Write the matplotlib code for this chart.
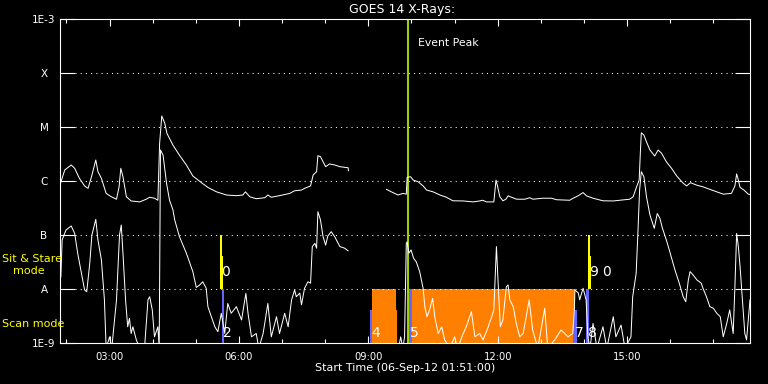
import matplotlib
matplotlib.use('Agg')
import matplotlib.pyplot as plt
from matplotlib.ticker import MultipleLocator, FuncFormatter, NullLocator

# ---------------- data (time in decimal hours UT on 06-Sep-2012, flux in W/m^2) ----------------
# GOES 14 long channel (1-8 A), two segments separated by a data gap
long_t1 = [1.85, 1.96, 2.11, 2.19, 2.30, 2.42, 2.50, 2.58, 2.68, 2.73, 2.81, 2.92, 3.04, 3.16, 3.22, 3.26,
           3.31, 3.39, 3.50, 3.70, 3.85, 3.93, 4.04, 4.12, 4.16, 4.21, 4.28, 4.33, 4.47, 4.62, 4.78, 4.93,
           5.13, 5.28, 5.48, 5.71, 5.94, 6.09, 6.15, 6.25, 6.40, 6.60, 6.67, 6.75, 6.94, 7.18, 7.29, 7.45,
           7.52, 7.66, 7.72, 7.80, 7.83, 7.89, 7.95, 8.01, 8.10, 8.22, 8.34, 8.53, 8.54]
long_f1 = [8.5e-7, 1.6e-6, 1.98e-6, 1.72e-6, 1.12e-6, 8.1e-7, 7.3e-7, 1.2e-6, 2.45e-6, 1.49e-6, 1.12e-6,
           5.9e-7, 5.1e-7, 4.6e-7, 7.8e-7, 1.72e-6, 1.2e-6, 5.1e-7, 4.27e-7, 4.1e-7, 4.6e-7, 5.0e-7, 4.8e-7,
           4.4e-7, 5.0e-6, 1.6e-5, 1.17e-5, 7.6e-6, 4.6e-6, 3.0e-6, 1.98e-6, 1.24e-6, 9.3e-7, 7.6e-7, 6.3e-7,
           5.5e-7, 5.35e-7, 5.5e-7, 6.3e-7, 5.1e-7, 4.7e-7, 4.9e-7, 5.5e-7, 5.0e-7, 5.35e-7, 5.9e-7, 6.6e-7,
           6.8e-7, 7.3e-7, 8.1e-7, 1.29e-6, 1.49e-6, 2.94e-6, 2.82e-6, 2.27e-6, 1.84e-6, 2.07e-6, 1.98e-6,
           1.84e-6, 1.76e-6, 1.55e-6]
long_t2 = [9.42, 9.57, 9.69, 9.80, 9.88, 9.90, 9.98, 10.04, 10.15, 10.27, 10.35, 10.50, 10.66, 10.81, 10.96,
           11.20, 11.43, 11.58, 11.65, 11.74, 11.91, 11.96, 11.99, 12.05, 12.12, 12.19, 12.24, 12.32, 12.44,
           12.63, 12.74, 12.82, 13.05, 13.25, 13.36, 13.67, 13.75, 13.86, 13.98, 14.06, 14.21, 14.44, 14.68,
           14.83, 15.06, 15.14, 15.22, 15.28, 15.31, 15.33, 15.39, 15.45, 15.53, 15.64, 15.72, 15.80, 15.91,
           16.03, 16.15, 16.30, 16.38, 16.47, 16.61, 16.76, 16.92, 17.08, 17.23, 17.42, 17.50, 17.54, 17.58,
           17.62, 17.71, 17.81, 17.85]
long_f2 = [7.0e-7, 6.1e-7, 5.5e-7, 5.9e-7, 5.7e-7, 1.17e-6, 1.2e-6, 1.04e-6, 9.7e-7, 8.1e-7, 6.8e-7, 6.3e-7,
           5.5e-7, 5.0e-7, 4.3e-7, 4.27e-7, 4.1e-7, 4.27e-7, 4.4e-7, 4.1e-7, 4.1e-7, 1.04e-6, 8.4e-7, 5.1e-7,
           4.3e-7, 4.6e-7, 5.3e-7, 5.0e-7, 4.6e-7, 4.6e-7, 4.9e-7, 4.6e-7, 4.8e-7, 4.8e-7, 4.5e-7, 4.4e-7,
           4.8e-7, 5.3e-7, 6.1e-7, 5.3e-7, 4.8e-7, 4.3e-7, 4.27e-7, 4.4e-7, 4.6e-7, 5.1e-7, 7.8e-7, 1.04e-6,
           3.75e-6, 7.8e-6, 7.1e-6, 5.3e-6, 3.75e-6, 2.9e-6, 3.75e-6, 3.26e-6, 2.27e-6, 1.72e-6, 1.24e-6,
           9.1e-7, 8.1e-7, 9.3e-7, 8.4e-7, 7.8e-7, 7.0e-7, 6.3e-7, 5.7e-7, 5.9e-7, 8.1e-7, 1.35e-6, 1.04e-6,
           7.6e-7, 6.8e-7, 5.7e-7, 5.6e-7]

# GOES 14 short channel (0.5-4 A)
short_t1 = [1.87, 1.90, 1.99, 2.11, 2.19, 2.26, 2.34, 2.42, 2.47, 2.54, 2.59, 2.68, 2.73, 2.81, 2.88, 2.92,
            3.00, 3.05, 3.16, 3.23, 3.27, 3.31, 3.37, 3.42, 3.46, 3.50, 3.54, 3.62, 3.70, 3.81, 3.89, 3.93,
            3.99, 4.04, 4.12, 4.15, 4.18, 4.24, 4.32, 4.39, 4.47, 4.51, 4.62, 4.78, 4.93, 5.01, 5.09, 5.16,
            5.24, 5.28, 5.36, 5.44, 5.51, 5.59, 5.67, 5.74, 5.82, 5.94, 6.06, 6.16, 6.21, 6.29, 6.40, 6.46,
            6.56, 6.67, 6.75, 6.87, 6.94, 7.06, 7.14, 7.22, 7.29, 7.33, 7.41, 7.45, 7.52, 7.60, 7.66, 7.70,
            7.76, 7.80, 7.83, 7.89, 7.95, 8.01, 8.06, 8.14, 8.22, 8.34, 8.45, 8.53]
short_f1 = [1.69e-8, 8.1e-8, 1.24e-7, 1.47e-7, 1.07e-7, 4.6e-8, 2.1e-8, 9.6e-9, 8.9e-9, 3.0e-8, 1.0e-7,
            1.95e-7, 8.1e-8, 3.44e-8, 6.3e-9, 8e-10, 1.3e-9, 8e-10, 6.3e-9, 1.0e-7, 1.53e-7, 4.6e-8, 6.3e-9,
            2.0e-9, 2.87e-9, 1.5e-9, 2.0e-9, 1.14e-9, 8e-10, 8e-10, 6.3e-9, 7.2e-9, 4.1e-9, 1.3e-9, 2.0e-9,
            8e-10, 3.75e-6, 3.0e-6, 9.1e-7, 4.4e-7, 2.9e-7, 1.9e-7, 9.3e-8, 4.6e-8, 2.1e-8, 1.07e-8, 1.19e-8,
            1.36e-8, 1.03e-8, 4.7e-9, 3.07e-9, 2.0e-9, 1.62e-9, 3.55e-9, 1.5e-9, 5.4e-9, 3.55e-9, 4.7e-9,
            2.67e-9, 8.3e-9, 3.55e-9, 1.3e-9, 1.5e-9, 8e-10, 1.5e-9, 5.4e-9, 1.3e-9, 3.07e-9, 1.5e-9, 3.55e-9,
            2.0e-9, 6.3e-9, 9.6e-9, 7.2e-9, 8.4e-9, 5.1e-9, 1.03e-8, 1.36e-8, 1.28e-8, 6.1e-8, 7.0e-8, 5.7e-8,
            2.7e-7, 1.9e-7, 9.3e-8, 6.5e-8, 9.6e-8, 1.15e-7, 9.3e-8, 6.1e-8, 5.7e-8, 5.1e-8]
short_t2 = [9.70, 9.75, 9.80, 9.84, 9.88, 9.90, 9.94, 9.99, 10.05, 10.11, 10.19, 10.27, 10.31, 10.36, 10.42,
            10.49, 10.54, 10.62, 10.70, 10.77, 10.89, 11.00, 11.07, 11.20, 11.27, 11.39, 11.47, 11.58, 11.66,
            11.78, 11.86, 11.91, 11.97, 12.01, 12.06, 12.12, 12.20, 12.24, 12.28, 12.36, 12.43, 12.51, 12.59,
            12.73, 12.81, 12.93, 13.09, 13.16, 13.32, 13.47, 13.63, 13.74, 13.78, 13.79, 13.87, 13.90, 13.98,
            14.05, 14.09, 14.14, 14.21, 14.30, 14.44, 14.53, 14.68, 14.74, 14.86, 14.95, 15.09, 15.13, 15.21,
            15.25, 15.29, 15.33, 15.39, 15.45, 15.53, 15.63, 15.70, 15.76, 15.82, 15.91, 15.99, 16.11, 16.21,
            16.30, 16.36, 16.42, 16.46, 16.53, 16.62, 16.72, 16.76, 16.84, 16.92, 17.00, 17.08, 17.16, 17.23,
            17.31, 17.38, 17.46, 17.50, 17.54, 17.58, 17.62, 17.68, 17.73, 17.77, 17.85]
short_f2 = [8e-10, 1.3e-9, 8e-10, 1.3e-9, 7.0e-8, 7.5e-8, 4.6e-8, 5.3e-8, 3.7e-8, 3.2e-8, 2.1e-8, 1.03e-8,
            4.7e-9, 3.07e-9, 4.1e-9, 6.7e-9, 3.07e-9, 1.5e-9, 2.0e-9, 1.14e-9, 8e-10, 1.3e-9, 8e-10, 1.5e-9,
            2.0e-9, 3.8e-9, 1.3e-9, 1.5e-9, 1.14e-9, 2.0e-9, 3.07e-9, 4.1e-9, 6.1e-8, 1.28e-8, 2.0e-9, 2.67e-9,
            1.1e-8, 1.19e-8, 6.3e-9, 4.7e-9, 2.3e-9, 1.3e-9, 1.5e-9, 6.3e-9, 1.74e-9, 8e-10, 4.4e-9, 8e-10,
            1.14e-9, 1.74e-9, 1.3e-9, 1.5e-9, 4.7e-9, 9.6e-9, 8.4e-9, 6.3e-9, 1.03e-8, 6.3e-9, 1.3e-9, 8e-10,
            2.3e-9, 8e-10, 2.0e-9, 8e-10, 3.07e-9, 1.3e-9, 2.15e-9, 8e-10, 1.3e-9, 7.2e-9, 1.95e-8, 1.07e-7,
            6.8e-7, 1.49e-6, 1.2e-6, 5.1e-7, 2.35e-7, 1.33e-7, 2.5e-7, 2.04e-7, 1.33e-7, 8.1e-8, 4.9e-8,
            2.25e-8, 1.28e-8, 7.2e-9, 5.8e-9, 1.47e-8, 2.1e-8, 1.82e-8, 1.47e-8, 1.28e-8, 1.03e-8, 7.2e-9,
            4.7e-9, 4.4e-9, 3.55e-9, 3.07e-9, 1.3e-9, 2.3e-9, 4.1e-9, 1.5e-9, 1.1e-8, 1.07e-7, 6.1e-8, 2.6e-8,
            5.4e-9, 1.5e-9, 1.14e-9, 6.3e-9]

# observing-mode blocks
orange_start = [9.08, 9.65, 10.01]
orange_end = [9.65, 9.67, 13.79]
orange_top = [1e-8, 4.1e-9, 1e-8]
blue_start = [5.60, 9.03, 9.95, 13.75, 14.04]
blue_end = [5.66, 9.08, 10.01, 13.84, 14.11]
blue_top = [1e-8, 4.1e-9, 1e-8, 4.1e-9, 1e-8]
yellow_start = [5.55, 5.61, 14.09, 14.13]
yellow_end = [5.61, 5.63, 14.13, 14.16]
yellow_top = [1e-7, 4e-8, 1e-7, 4e-8]

# observation number labels
obs_labels = ['0', '2', '4', '5', '7', '8', '9', '0']
obs_t = [5.59, 5.63, 9.07, 9.96, 13.78, 14.10, 14.11, 14.41]
obs_f = [2.07e-8, 1.56e-9, 1.56e-9, 1.56e-9, 1.56e-9, 1.56e-9, 2.07e-8, 2.07e-8]

event_peak_t = 9.93
t_start, t_end = 1.85, 17.85   # 01:51 - 17:51

level_vals = [1e-9, 1e-8, 1e-7, 1e-6, 1e-5, 1e-4, 1e-3]
level_labels = ['1E-9', 'A', 'B', 'C', 'M', 'X', '1E-3']

# ---------------- figure ----------------
W, H = 768, 384
fig = plt.figure(figsize=(W / 100, H / 100), dpi=100, facecolor='black')
ax = fig.add_axes([60 / W, 1 - 343 / H, 690 / W, 324 / H])
ax.set_facecolor('black')
ax.set_yscale('log')
ax.set_ylim(level_vals[0], level_vals[-1])
ax.set_xlim(t_start, t_end)

ORANGE = '#ff8000'
BLUE = '#6464ff'
YELLOW = '#ffff00'
GREEN = '#a0d000'

for s, e, top in zip(orange_start, orange_end, orange_top):
    ax.bar(s, top - 1e-9, bottom=1e-9, width=e - s, align='edge', color=ORANGE, lw=0, zorder=1)
for s, e, top in zip(blue_start, blue_end, blue_top):
    ax.bar(s, top - 1e-9, bottom=1e-9, width=e - s, align='edge', color=BLUE, lw=0, zorder=2)
for s, e, top in zip(yellow_start, yellow_end, yellow_top):
    ax.bar(s, top - 1e-8, bottom=1e-8, width=e - s, align='edge', color=YELLOW, lw=0, zorder=2)

# dotted grid at class levels
for v in level_vals[1:-1]:
    ax.axhline(v, xmin=15 / 690, xmax=676 / 690, color='white', lw=0.75,
               linestyle=(0, (1, 4)), zorder=1.5)

ax.axvline(event_peak_t, color=GREEN, lw=1.5, zorder=2.5)

for t, f in [(long_t1, long_f1), (long_t2, long_f2), (short_t1, short_f1), (short_t2, short_f2)]:
    ax.plot(t, f, color='white', lw=0.72, zorder=3, antialiased=True)

for lab, t, f in zip(obs_labels, obs_t, obs_f):
    ax.text(t, f, lab, color='white', fontsize=10, ha='left', va='center', zorder=4)

ax.text(10.15, 3.67e-4, 'Event Peak', color='white', fontsize=7.8, ha='left', va='center')

# spines & ticks
for sp in ax.spines.values():
    sp.set_color('white')
    sp.set_linewidth(0.8)

ax.set_yticks(level_vals)
ax.set_yticklabels(level_labels)
ax.yaxis.set_minor_locator(NullLocator())
ax.tick_params(axis='y', which='major', direction='in', length=10.8, width=0.8, colors='white',
               labelsize=7.5, pad=11.5, left=True, right=True)
for lbl in ax.get_yticklabels():
    lbl.set_horizontalalignment('center')

ax.xaxis.set_major_locator(MultipleLocator(3))
ax.xaxis.set_minor_locator(MultipleLocator(1))
ax.xaxis.set_major_formatter(FuncFormatter(lambda v, p: '%02d:00' % int(round(v))))
ax.tick_params(axis='x', which='major', direction='in', length=5, width=0.8, colors='white',
               labelsize=7.2, pad=6.5, top=True, bottom=True)
ax.tick_params(axis='x', which='minor', direction='in', length=2.8, width=0.8, colors='white',
               top=True, bottom=True)

# titles and side labels
fig.text(402 / W, 1 - 9.5 / H, 'GOES 14 X-Rays:', color='white', fontsize=9, ha='center', va='center')
fig.text(405 / W, 1 - 368 / H, 'Start Time (06-Sep-12 01:51:00)', color='white', fontsize=8,
         ha='center', va='center')
fig.text(2 / W, 1 - 259.5 / H, 'Sit & Stare', color=YELLOW, fontsize=8, ha='left', va='center')
fig.text(13 / W, 1 - 271 / H, 'mode', color=YELLOW, fontsize=8, ha='left', va='center')
fig.text(2 / W, 1 - 324 / H, 'Scan mode', color=YELLOW, fontsize=8, ha='left', va='center')

fig.savefig('out.png', dpi=100, facecolor='black')
